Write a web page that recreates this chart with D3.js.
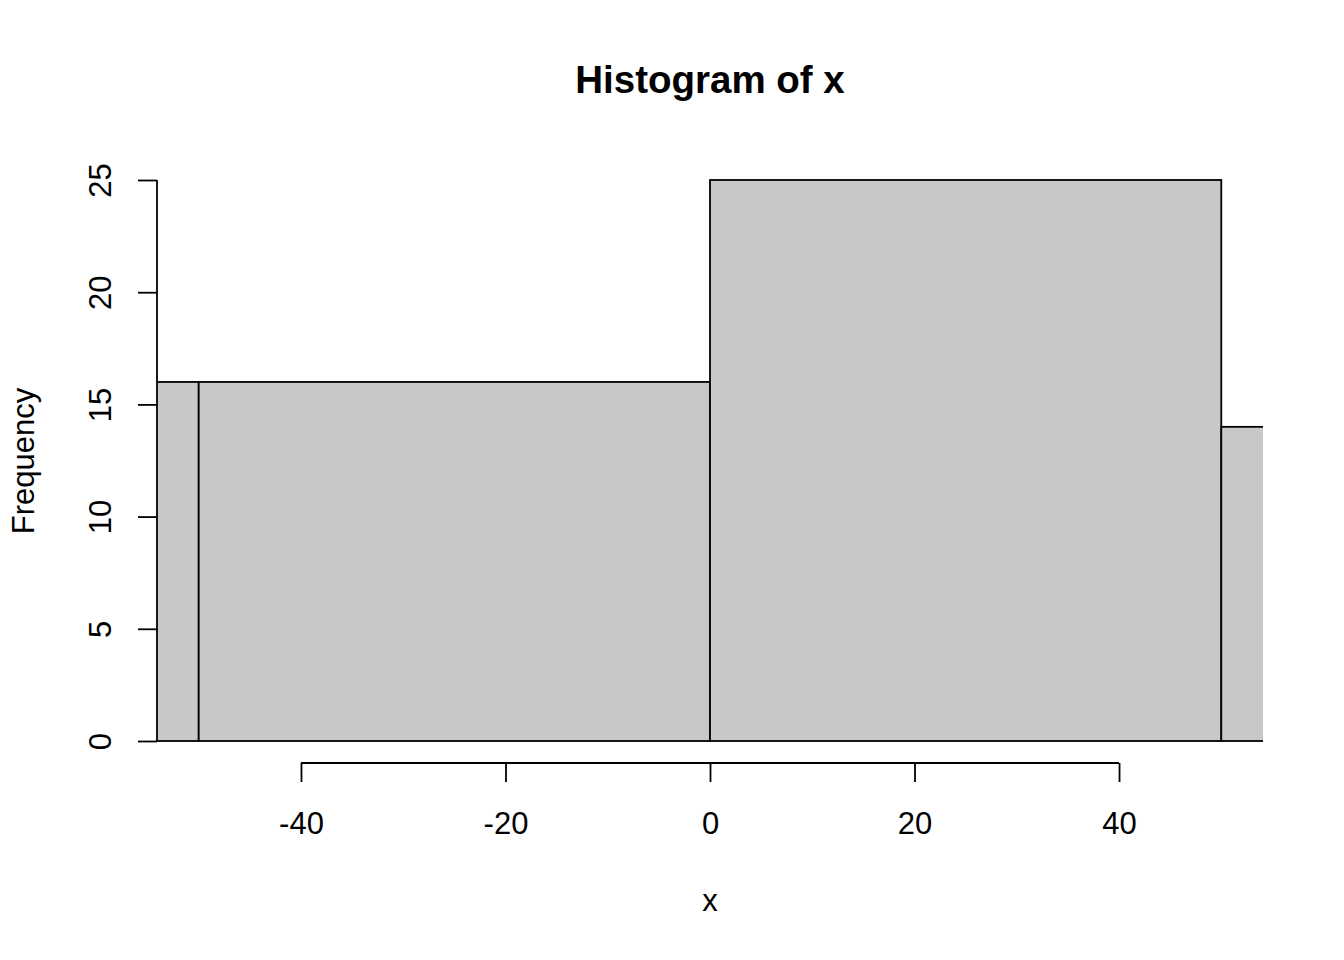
<!DOCTYPE html>
<html>
<head>
<meta charset="utf-8">
<script src="https://cdn.jsdelivr.net/npm/d3@7"></script>
<style>
  body { margin: 0; background: #fff; }
  text { font-family: "Liberation Sans", Arial, sans-serif; fill: #000; }
</style>
</head>
<body>
<div id="chart-area"></div>
<script>
// histogram data
var breaks = [-100, -50, 0, 50, 100];
var counts = [16, 16, 25, 14];
var xTicks = [-40, -20, 0, 20, 40];
var yTicks = [0, 5, 10, 15, 20, 25];
var xRange = [-54.08, 54.08];

var bins = counts.map(function(c, i){
	return {x0: breaks[i], x1: breaks[i+1], n: c};
});

var svg = d3.select("#chart-area")
			.append("svg")
			.attr("width", 1344)
			.attr("height", 960);

var x = d3.scaleLinear().domain(xRange).range([157, 1263]);
var y = d3.scaleLinear().domain([0, 25]).range([741, 180]);

svg.append("clipPath")
	.attr("id", "plotclip")
	.append("rect")
	.attr("x", 157)
	.attr("y", 0)
	.attr("width", 1263 - 157)
	.attr("height", 960);

svg.append("g")
	.attr("clip-path", "url(#plotclip)")
	.selectAll("rect")
	.data(bins)
	.enter()
	.append("rect")
	.attr("x", function(d){ return x(d.x0); })
	.attr("y", function(d){ return y(d.n); })
	.attr("width", function(d){ return x(d.x1) - x(d.x0); })
	.attr("height", function(d){ return y(0) - y(d.n); })
	.attr("fill", "#c8c8c8")
	.attr("stroke", "#000")
	.attr("stroke-width", 1.8);

// x axis
var xAxis = d3.axisBottom(x).tickValues(xTicks).tickSize(19).tickPadding(8).tickFormat(d3.format("d"));
var gx = svg.append("g")
	.attr("transform", "translate(0,763)")
	.call(xAxis);
gx.select(".domain").remove();
gx.append("line")
	.attr("x1", x(xTicks[0])).attr("x2", x(xTicks[xTicks.length-1]))
	.attr("y1", 0).attr("y2", 0)
	.attr("stroke", "#000").attr("stroke-width", 1.8);
gx.selectAll(".tick line").attr("stroke-width", 1.8);
gx.selectAll(".tick text")
	.style("font-size", "31px")
	.attr("dy", null)
	.attr("y", 71)
	.text(function(d){ return d < 0 ? "-" + Math.abs(d) : d; });

// y axis
var yAxis = d3.axisLeft(y).tickValues(yTicks).tickSize(19);
var gy = svg.append("g")
	.attr("transform", "translate(157,0)")
	.call(yAxis);
gy.select(".domain").remove();
gy.append("line")
	.attr("x1", 0).attr("x2", 0)
	.attr("y1", y(0)).attr("y2", y(25))
	.attr("stroke", "#000").attr("stroke-width", 1.8);
gy.selectAll(".tick line").attr("stroke-width", 1.8);
gy.selectAll(".tick text")
	.style("font-size", "31px")
	.attr("x", null)
	.attr("dy", null)
	.attr("text-anchor", "middle")
	.attr("transform", "translate(-46,0) rotate(-90)");

// titles
svg.append("text")
	.attr("x", 710)
	.attr("y", 93)
	.attr("text-anchor", "middle")
	.style("font-size", "38.5px")
	.style("font-weight", "bold")
	.text("Histogram of x");

svg.append("text")
	.attr("x", 710)
	.attr("y", 911)
	.attr("text-anchor", "middle")
	.style("font-size", "31px")
	.text("x");

svg.append("text")
	.attr("transform", "translate(34,461) rotate(-90)")
	.attr("text-anchor", "middle")
	.style("font-size", "31px")
	.text("Frequency");
</script>
</body>
</html>
